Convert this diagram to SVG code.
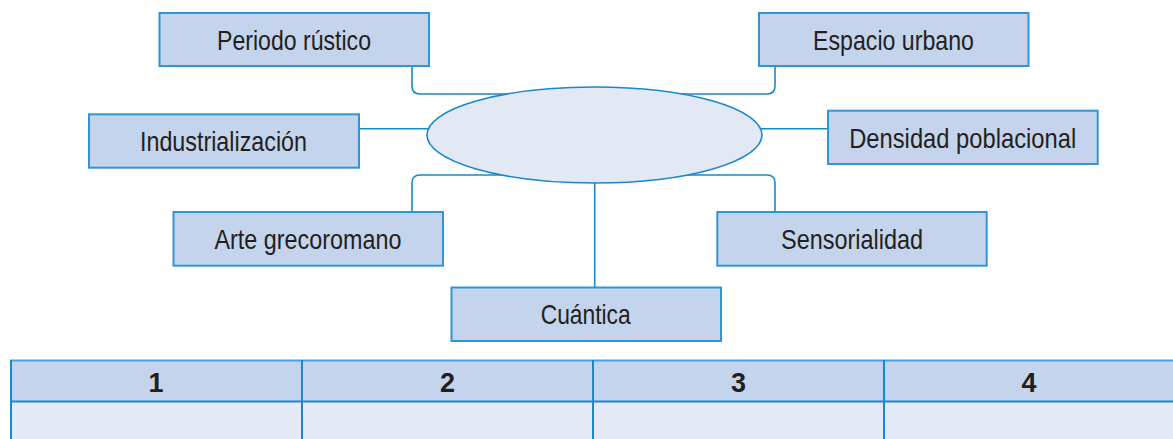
<svg xmlns="http://www.w3.org/2000/svg" width="1173" height="439" viewBox="0 0 1173 439">
<style>
.box{fill:#c3d4ec;stroke:#2f95d6;stroke-width:2}
.lbl{font-family:"Liberation Sans",Arial,sans-serif;font-size:28px;fill:#231f20;text-anchor:middle}
.num{font-family:"Liberation Sans",Arial,sans-serif;font-size:27px;font-weight:bold;fill:#231f20;text-anchor:middle}
.con{fill:none;stroke:#1a88cc;stroke-width:1.6}
.grid{fill:none;stroke:#1a88cc;stroke-width:2}
</style>
<rect width="1173" height="439" fill="#ffffff"/>
<g id="connectors">
<path class="con" d="M412,66 V86 Q412,94 420,94 H767 Q775,94 775,86 V66"/>
<path class="con" d="M359,128.7 H430"/>
<path class="con" d="M759,128.7 H828"/>
<path class="con" d="M412,212 V183 Q412,175 420,175 H767 Q775,175 775,183 V212"/>
<path class="con" d="M594.7,182 V287.5"/>
</g>
<g id="center">
<ellipse cx="594.5" cy="135" rx="167.5" ry="48" fill="#e2e9f5" stroke="#1a88cc" stroke-width="1.6"/>
</g>
<g id="periodo">
<rect class="box" x="159.5" y="13" width="269.5" height="53"/>
<text class="lbl" x="294" y="49.5" textLength="154" lengthAdjust="spacingAndGlyphs">Periodo rústico</text>
</g>
<g id="espacio">
<rect class="box" x="759" y="13" width="269.5" height="53"/>
<text class="lbl" x="893.5" y="49.5" textLength="161" lengthAdjust="spacingAndGlyphs">Espacio urbano</text>
</g>
<g id="industrializacion">
<rect class="box" x="89" y="114.3" width="270" height="53.4"/>
<text class="lbl" x="223.5" y="151.2" textLength="167" lengthAdjust="spacingAndGlyphs">Industrialización</text>
</g>
<g id="densidad">
<rect class="box" x="828" y="110.7" width="269.7" height="53.3"/>
<text class="lbl" x="962.7" y="147.5" textLength="227" lengthAdjust="spacingAndGlyphs">Densidad poblacional</text>
</g>
<g id="arte">
<rect class="box" x="173.5" y="212" width="269.5" height="53.7"/>
<text class="lbl" x="308" y="248.5" textLength="187" lengthAdjust="spacingAndGlyphs">Arte grecoromano</text>
</g>
<g id="sensorialidad">
<rect class="box" x="717.3" y="212" width="269.4" height="53.7"/>
<text class="lbl" x="852" y="248.5" textLength="142" lengthAdjust="spacingAndGlyphs">Sensorialidad</text>
</g>
<g id="cuantica">
<rect class="box" x="451.5" y="287.5" width="269.5" height="53.5"/>
<text class="lbl" x="585.7" y="324.2" textLength="90" lengthAdjust="spacingAndGlyphs">Cuántica</text>
</g>
<g id="table">
<rect x="10" y="360" width="1170" height="41.5" fill="#c3d4ec"/>
<rect x="10" y="401.5" width="1170" height="45" fill="#e3e9f5"/>
<path d="M10,360.5 H1180" stroke="#4aa3de" stroke-width="2" fill="none"/>
<path class="grid" d="M10,401.5 H1180 M11,360 V445 M302,360 V445 M593,360 V445 M884,360 V445"/>
<text class="num" x="156" y="391.5">1</text>
<text class="num" x="447.5" y="391.5">2</text>
<text class="num" x="738.5" y="391.5">3</text>
<text class="num" x="1029" y="391.5">4</text>
</g>
</svg>
